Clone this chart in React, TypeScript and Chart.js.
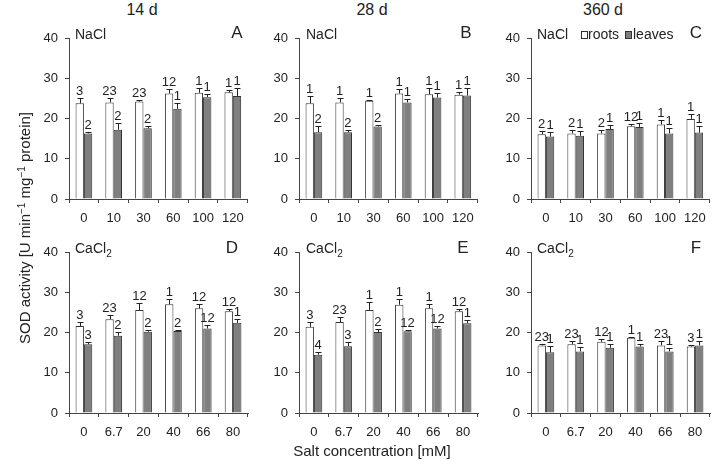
import React, { useEffect, useRef } from 'react';
import { Chart, registerables } from 'chart.js';

Chart.register(...registerables);

const FONT = "'Liberation Sans', Arial, Helvetica, sans-serif";

// Categories (salt concentrations, mM)
const naclConc = ['0', '10', '30', '60', '100', '120'];
const caclConc = ['0', '6.7', '20', '40', '66', '80'];

// Panel A: NaCl, 14 d
const rootsA = [23.8, 24.0, 24.2, 26.2, 26.4, 26.5];
const rootsErrA = [1.3, 1.2, 0.3, 1.2, 1.3, 0.7];
const rootsLblA = ['3', '23', '23', '12', '1', '1'];
const leavesA = [16.3, 17.2, 17.6, 22.4, 25.3, 25.6];
const leavesErrA = [0.4, 1.8, 0.6, 1.4, 0.9, 2.1];
const leavesLblA = ['2', '2', '2', '1', '1', '1'];

// Panel B: NaCl, 28 d
const rootsB = [23.8, 24.0, 24.4, 26.2, 26.0, 25.9];
const rootsErrB = [1.9, 1.2, 0.3, 1.2, 1.5, 0.8];
const rootsLblB = ['1', '1', '1', '1', '1', '1'];
const leavesB = [16.6, 16.6, 18.0, 24.0, 25.2, 25.7];
const leavesErrB = [1.6, 0.5, 0.5, 0.9, 1.2, 2.0];
const leavesLblB = ['2', '2', '2', '1', '1', '1'];

// Panel C: NaCl, 360 d
const rootsC = [16.1, 16.3, 16.3, 18.1, 18.5, 19.9];
const rootsErrC = [0.7, 0.9, 0.8, 0.5, 1.1, 1.3];
const rootsLblC = ['2', '2', '2', '12', '1', '1'];
const leavesC = [15.5, 15.7, 17.4, 17.9, 16.3, 16.5];
const leavesErrC = [1.1, 1.1, 0.9, 1.1, 1.4, 1.7];
const leavesLblC = ['1', '1', '1', '1', '1', '1'];

// Panel D: CaCl2, 14 d
const rootsD = [21.6, 23.3, 25.6, 27.0, 26.0, 25.3];
const rootsErrD = [1.1, 1.0, 1.8, 1.4, 1.0, 0.5];
const rootsLblD = ['3', '23', '12', '1', '12', '12'];
const leavesD = [17.1, 19.2, 20.2, 20.4, 21.0, 22.4];
const leavesErrD = [0.6, 1.0, 0.5, 0.2, 0.8, 0.9];
const leavesLblD = ['3', '2', '2', '2', '12', '1'];

// Panel E: CaCl2, 28 d
const rootsE = [21.4, 22.6, 25.6, 26.9, 26.0, 25.3];
const rootsErrE = [1.1, 1.2, 1.9, 1.4, 1.2, 0.5];
const rootsLblE = ['3', '23', '1', '1', '1', '12'];
const leavesE = [14.5, 16.6, 20.1, 20.3, 21.0, 22.3];
const leavesErrE = [0.6, 1.0, 0.8, 0.2, 0.7, 0.8];
const leavesLblE = ['4', '3', '2', '12', '12', '1'];

// Panel F: CaCl2, 360 d
const rootsF = [16.8, 17.1, 17.7, 18.7, 16.8, 16.5];
const rootsErrF = [0.3, 0.9, 0.6, 0.3, 1.2, 0.5];
const rootsLblF = ['23', '23', '12', '1', '23', '3'];
const leavesF = [15.1, 15.3, 16.2, 16.5, 15.3, 16.8];
const leavesErrF = [1.5, 1.0, 0.9, 0.6, 0.8, 1.0];
const leavesLblF = ['1', '1', '1', '1', '1', '1'];

const Y_MIN = 0;
const Y_MAX = 40;
const Y_STEP = 10;

const AXIS_W = 40;
const AXIS_H = 30;
const PAD_T = 20;
const PAD_R = 4;
const PLOT_W = 179;
const PLOT_H = 161;
const CW = AXIS_W + PLOT_W + PAD_R;
const CH = PAD_T + PLOT_H + AXIS_H;

const errorPlugin = {
  id: 'errLetters',
  afterDatasetsDraw(chart: any) {
    const { ctx } = chart;
    const yScale = chart.scales.y;
    ctx.save();
    chart.data.datasets.forEach((ds: any, i: number) => {
      const meta = chart.getDatasetMeta(i);
      meta.data.forEach((bar: any, j: number) => {
        const v = ds.data[j];
        const e = ds.errors[j];
        const yBar = yScale.getPixelForValue(v);
        const yTop = Math.round(yScale.getPixelForValue(v + e)) + 0.5;
        const x = Math.round(bar.x) + 0.5;
        ctx.strokeStyle = '#222';
        ctx.lineWidth = 1;
        ctx.beginPath();
        ctx.moveTo(x, yBar);
        ctx.lineTo(x, yTop);
        ctx.moveTo(x - 3, yTop);
        ctx.lineTo(x + 3, yTop);
        ctx.stroke();
        ctx.fillStyle = '#222';
        ctx.font = `13px ${FONT}`;
        ctx.textAlign = 'center';
        ctx.textBaseline = 'alphabetic';
        ctx.fillText(ds.letters[j], bar.x, yTop - 4);
      });
    });
    ctx.restore();
  },
};

type PanelProps = {
  left: number;
  top: number;
  labels: string[];
  roots: number[];
  rootsErr: number[];
  rootsLbl: string[];
  leaves: number[];
  leavesErr: number[];
  leavesLbl: string[];
};

function Panel(p: PanelProps) {
  const ref = useRef<HTMLCanvasElement | null>(null);
  useEffect(() => {
    if (!ref.current) return;
    const chart = new Chart(ref.current, {
      type: 'bar',
      data: {
        labels: p.labels,
        datasets: [
          {
            label: 'roots',
            data: p.roots,
            errors: p.rootsErr,
            letters: p.rootsLbl,
            backgroundColor: '#ffffff',
            borderColor: '#333333',
            borderWidth: 1,
          } as any,
          {
            label: 'leaves',
            data: p.leaves,
            errors: p.leavesErr,
            letters: p.leavesLbl,
            backgroundColor: '#7f7f7f',
            borderColor: '#333333',
            borderWidth: 1,
          } as any,
        ],
      },
      options: {
        animation: false,
        responsive: false,
        maintainAspectRatio: false,
        devicePixelRatio: 1,
        layout: { padding: { top: PAD_T, right: PAD_R, left: 0, bottom: 0 } },
        datasets: { bar: { categoryPercentage: 0.56, barPercentage: 1.0 } },
        plugins: { legend: { display: false }, tooltip: { enabled: false }, title: { display: false } },
        scales: {
          x: {
            offset: true,
            grid: { display: true, drawOnChartArea: false, drawTicks: true, tickLength: 4, color: '#444', offset: true },
            border: { display: true, color: '#444', width: 1 },
            ticks: { color: '#222', font: { size: 13, family: FONT }, padding: 8, maxRotation: 0, autoSkip: false },
            afterFit: (s: any) => { s.height = AXIS_H; },
          },
          y: {
            min: Y_MIN,
            max: Y_MAX,
            grid: { display: true, drawOnChartArea: false, drawTicks: true, tickLength: 4, color: '#444' },
            border: { display: true, color: '#444', width: 1 },
            ticks: { stepSize: Y_STEP, color: '#222', font: { size: 13, family: FONT }, padding: 7 },
            afterFit: (s: any) => { s.width = AXIS_W; },
          },
        },
      } as any,
      plugins: [errorPlugin as any],
    });
    return () => chart.destroy();
  }, []);
  return (
    <canvas
      ref={ref}
      width={CW}
      height={CH}
      style={{ position: 'absolute', left: p.left - AXIS_W, top: p.top - PAD_T, width: CW, height: CH, display: 'block' }}
    />
  );
}

function Txt(props: { x: number; y: number; size: number; children: any; center?: boolean; style?: any }) {
  const { x, y, size, center } = props;
  return (
    <div
      style={{
        position: 'absolute',
        left: x,
        top: y - 0.49 * size,
        fontSize: size,
        lineHeight: `${size}px`,
        whiteSpace: 'nowrap',
        color: '#222',
        transform: center ? 'translateX(-50%)' : undefined,
        ...(props.style || {}),
      }}
    >
      {props.children}
    </div>
  );
}

const COLS = [69, 299, 531];
const ROWS = [38, 252];

export default function App() {
  return (
    <div
      style={{
        position: 'fixed',
        left: 0,
        top: 0,
        width: 712,
        height: 468,
        background: '#fff',
        fontFamily: FONT,
        overflow: 'hidden',
      }}
    >
      <Panel left={COLS[0]} top={ROWS[0]} labels={naclConc} roots={rootsA} rootsErr={rootsErrA} rootsLbl={rootsLblA} leaves={leavesA} leavesErr={leavesErrA} leavesLbl={leavesLblA} />
      <Panel left={COLS[1]} top={ROWS[0]} labels={naclConc} roots={rootsB} rootsErr={rootsErrB} rootsLbl={rootsLblB} leaves={leavesB} leavesErr={leavesErrB} leavesLbl={leavesLblB} />
      <Panel left={COLS[2]} top={ROWS[0]} labels={naclConc} roots={rootsC} rootsErr={rootsErrC} rootsLbl={rootsLblC} leaves={leavesC} leavesErr={leavesErrC} leavesLbl={leavesLblC} />
      <Panel left={COLS[0]} top={ROWS[1]} labels={caclConc} roots={rootsD} rootsErr={rootsErrD} rootsLbl={rootsLblD} leaves={leavesD} leavesErr={leavesErrD} leavesLbl={leavesLblD} />
      <Panel left={COLS[1]} top={ROWS[1]} labels={caclConc} roots={rootsE} rootsErr={rootsErrE} rootsLbl={rootsLblE} leaves={leavesE} leavesErr={leavesErrE} leavesLbl={leavesLblE} />
      <Panel left={COLS[2]} top={ROWS[1]} labels={caclConc} roots={rootsF} rootsErr={rootsErrF} rootsLbl={rootsLblF} leaves={leavesF} leavesErr={leavesErrF} leavesLbl={leavesLblF} />

      {/* column titles */}
      <Txt x={142} y={9.5} size={16} center>14 d</Txt>
      <Txt x={372} y={9.5} size={16} center>28 d</Txt>
      <Txt x={603} y={9.5} size={16} center>360 d</Txt>

      {/* salt labels */}
      <Txt x={75} y={33.5} size={14}>NaCl</Txt>
      <Txt x={306} y={33.5} size={14}>NaCl</Txt>
      <Txt x={537} y={33.5} size={14}>NaCl</Txt>
      <Txt x={75} y={247.5} size={14}>CaCl<sub style={{ fontSize: 10, verticalAlign: -4, lineHeight: 0 }}>2</sub></Txt>
      <Txt x={306} y={247.5} size={14}>CaCl<sub style={{ fontSize: 10, verticalAlign: -4, lineHeight: 0 }}>2</sub></Txt>
      <Txt x={537} y={247.5} size={14}>CaCl<sub style={{ fontSize: 10, verticalAlign: -4, lineHeight: 0 }}>2</sub></Txt>

      {/* panel letters */}
      <Txt x={237} y={32.5} size={17} center>A</Txt>
      <Txt x={466} y={32.5} size={17} center>B</Txt>
      <Txt x={696} y={32.5} size={17} center>C</Txt>
      <Txt x={232} y={247} size={17} center>D</Txt>
      <Txt x={463} y={247} size={17} center>E</Txt>
      <Txt x={696} y={247.5} size={17} center>F</Txt>

      {/* legend */}
      <div style={{ position: 'absolute', left: 581, top: 31, width: 5, height: 6, border: '1px solid #333', background: '#fff' }} />
      <Txt x={588} y={33.5} size={14}>roots</Txt>
      <div style={{ position: 'absolute', left: 625, top: 31, width: 5, height: 6, border: '1px solid #333', background: '#7f7f7f' }} />
      <Txt x={633} y={33.5} size={14}>leaves</Txt>

      {/* y-axis title */}
      <div
        style={{
          position: 'absolute',
          left: 25 - 150,
          top: 228 - 8,
          width: 300,
          height: 16,
          lineHeight: '16px',
          fontSize: 15,
          textAlign: 'center',
          color: '#222',
          whiteSpace: 'nowrap',
          transform: 'rotate(-90deg)',
        }}
      >
        SOD activity [U min<sup style={{ fontSize: 10, verticalAlign: 5, lineHeight: 0 }}>−1</sup> mg<sup style={{ fontSize: 10, verticalAlign: 5, lineHeight: 0 }}>−1</sup> protein]
      </div>

      {/* x-axis title */}
      <Txt x={372} y={450.5} size={15} center>Salt concentration [mM]</Txt>
    </div>
  );
}
